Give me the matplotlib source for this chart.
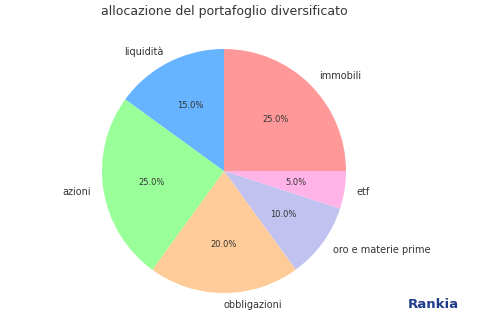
import matplotlib.pyplot as plt

labels = ["immobili", "etf", "oro e materie prime", "obbligazioni", "azioni", "liquidità"]
shares = [25, 5, 10, 20, 25, 15]
colors = ["#ff9999", "#ffb3e6", "#c2c2f0", "#ffcc99", "#99ff99", "#66b3ff"]

fig = plt.figure(figsize=(4.91, 3.30), dpi=100)
ax = fig.add_axes([71.5 / 491, 6.5 / 330, 305 / 491, 305 / 330])

wedges, texts, autotexts = ax.pie(
    shares, labels=labels, colors=colors, autopct="%1.1f%%",
    startangle=90, counterclock=False,
    textprops={"fontsize": 7, "color": "#333333"},
)
for t in autotexts:
    t.set_fontsize(6)
# bottom label sits right of the centre line in the original
texts[3].set_ha("left")
ax.set_aspect("equal")

fig.text(224 / 491, 1 - 12 / 330, "allocazione del portafoglio diversificato",
         ha="center", va="center", fontsize=9, color="#333333")

fig.text(433 / 491, 1 - 305 / 330, "Rankia", ha="center", va="center",
         fontsize=9.5, fontweight="bold", color="#1f3d8a")

fig.savefig("out.png", dpi=100)
